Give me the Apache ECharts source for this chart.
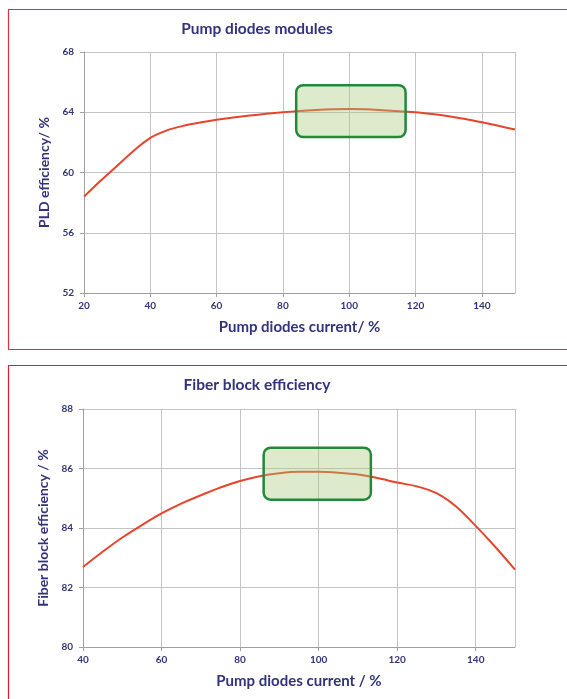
<!DOCTYPE html>
<html>
<head>
<meta charset="utf-8">
<script src="https://cdn.jsdelivr.net/npm/echarts@6/dist/echarts.min.js"></script>
<style>
html,body{margin:0;padding:0;background:#fff;}
#c{width:567px;height:699px;}
</style>
</head>
<body>
<div id="c"></div>
<script>
// ---- data ----
const pldTitle = 'Pump diodes modules';
const pldXName = 'Pump diodes current/ %';
const pldYName = 'PLD efficiency/ %';
const pldX = [20, 25, 30, 35, 40, 45, 50, 55, 60, 65, 70, 75, 80, 85, 90, 95, 100, 105, 110, 115, 120, 125, 130, 135, 140, 145, 150];
const pldY = [58.4, 59.45, 60.45, 61.45, 62.3, 62.8, 63.1, 63.32, 63.5, 63.65, 63.78, 63.9, 64.0, 64.08, 64.15, 64.2, 64.22, 64.2, 64.14, 64.07, 64.0, 63.88, 63.73, 63.55, 63.33, 63.1, 62.85];
const pldBox = [84, 117, 62.35, 65.8]; // x0, x1, y0, y1

const fibTitle = 'Fiber block efficiency';
const fibXName = 'Pump diodes current / %';
const fibYName = 'Fiber block efficiency / %';
const fibX = [40, 45, 50, 55, 60, 65, 70, 75, 80, 85, 90, 95, 100, 105, 110, 115, 120, 125, 130, 135, 140, 145, 150];
const fibY = [82.69, 83.2, 83.68, 84.1, 84.49, 84.82, 85.1, 85.36, 85.58, 85.74, 85.84, 85.89, 85.89, 85.86, 85.8, 85.68, 85.53, 85.4, 85.17, 84.72, 84.07, 83.36, 82.6];
const fibBox = [86, 113.3, 84.95, 86.7];

// ---- styling ----
const NAVY = '#33337c';
const FONT = 'Lato';
const GRID = '#c4c4c4';

function xAxisCfg(idx, min, max, name){
  return {
    type:'value', gridIndex:idx, min:min, max:max, interval:20,
    name:name, nameLocation:'middle', nameGap:27,
    nameTextStyle:{color:NAVY, fontFamily:FONT, fontWeight:'bold', fontSize:15},
    axisLine:{show:true, lineStyle:{color:'#a0a0a0', width:1}},
    axisTick:{show:true, length:4, lineStyle:{color:'#a0a0a0'}},
    axisLabel:{color:NAVY, fontFamily:FONT, fontWeight:'bold', fontSize:10, margin:8, showMaxLabel:false},
    splitLine:{show:true, lineStyle:{color:GRID, width:1}}
  };
}
function yAxisCfg(idx, min, max, interval, name){
  return {
    type:'value', gridIndex:idx, min:min, max:max, interval:interval,
    name:name, nameLocation:'middle', nameGap:29,
    nameTextStyle:{color:NAVY, fontFamily:FONT, fontWeight:'bold', fontSize:14},
    axisLine:{show:true, lineStyle:{color:'#a0a0a0', width:1}},
    axisTick:{show:true, length:4, lineStyle:{color:'#a0a0a0'}},
    axisLabel:{color:NAVY, fontFamily:FONT, fontWeight:'bold', fontSize:10, margin:10},
    splitLine:{show:true, lineStyle:{color:GRID, width:1}}
  };
}
function boxSeries(idx, box){
  return {
    type:'custom', xAxisIndex:idx, yAxisIndex:idx, z:5,
    data:[box],
    encode:{x:[0,1], y:[2,3]},
    renderItem:function(params, api){
      const p0 = api.coord([api.value(0), api.value(3)]);
      const p1 = api.coord([api.value(1), api.value(2)]);
      return {
        type:'rect',
        shape:{x:p0[0], y:p0[1], width:p1[0]-p0[0], height:p1[1]-p0[1], r:7},
        style:{fill:'rgba(165,200,120,0.38)', stroke:'#22883a', lineWidth:2.5}
      };
    }
  };
}
function lineSeries(idx, xs, ys){
  return {
    type:'line', xAxisIndex:idx, yAxisIndex:idx, z:3,
    data: xs.map((x,i)=>[x, ys[i]]),
    smooth:0.3, showSymbol:false, symbol:'none',
    lineStyle:{color:'#e8442c', width:2}
  };
}

const chart = echarts.init(document.getElementById('c'), null, {renderer:'canvas'});
chart.setOption({
  animation:false,
  grid:[
    {left:84, top:52, width:431, height:241},
    {left:83, top:409, width:432, height:238}
  ],
  xAxis:[ xAxisCfg(0, 20, 150, pldXName), xAxisCfg(1, 40, 150, fibXName) ],
  yAxis:[ yAxisCfg(0, 52, 68, 4, pldYName), yAxisCfg(1, 80, 88, 2, fibYName) ],
  series:[
    lineSeries(0, pldX, pldY),
    boxSeries(0, pldBox),
    lineSeries(1, fibX, fibY),
    boxSeries(1, fibBox)
  ],
  graphic:[
    {type:'rect', shape:{x:8.5, y:9.5, width:600, height:340}, style:{fill:null, stroke:'#e0303c', lineWidth:1.2}, silent:true, z:-1},
    {type:'rect', shape:{x:8.5, y:365.5, width:600, height:400}, style:{fill:null, stroke:'#e0202c', lineWidth:1.2}, silent:true, z:-1},
    {type:'text', x:257, y:29, style:{text:pldTitle, fill:NAVY, font:'bold 15.5px Lato', textAlign:'center', textVerticalAlign:'middle'}},
    {type:'text', x:257, y:385, style:{text:fibTitle, fill:NAVY, font:'bold 15.5px Lato', textAlign:'center', textVerticalAlign:'middle'}}
  ]
});
</script>
</body>
</html>
